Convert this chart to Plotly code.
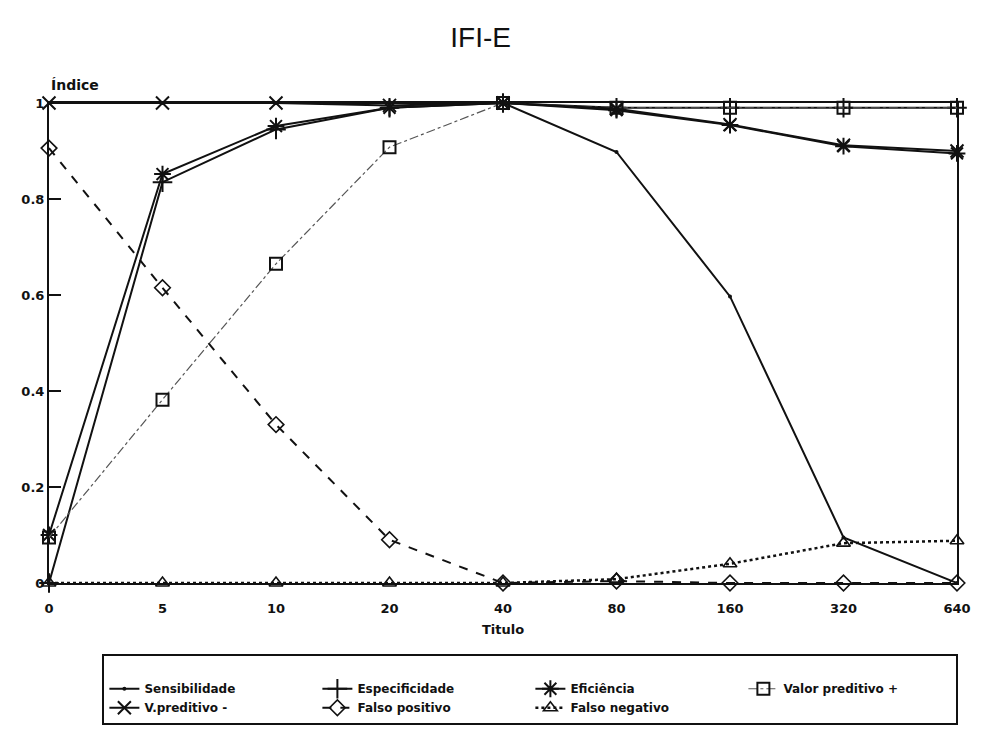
import plotly.graph_objects as go

titulos = ["0", "5", "10", "20", "40", "80", "160", "320", "640"]

sensibilidade = [1.0, 1.0, 1.0, 1.0, 1.0, 0.898, 0.597, 0.095, 0.0]
especificidade = [0.0, 0.835, 0.945, 0.99, 1.0, 0.99, 0.99, 0.99, 0.99]
eficiencia = [0.1, 0.852, 0.952, 0.99, 1.0, 0.985, 0.954, 0.91, 0.895]
valor_pred_pos = [0.095, 0.382, 0.665, 0.908, 1.0, 0.99, 0.99, 0.99, 0.99]
valor_pred_neg = [1.0, 1.0, 1.0, 0.995, 1.0, 0.988, 0.955, 0.912, 0.9]
falso_positivo = [0.906, 0.615, 0.33, 0.09, 0.0, 0.004, 0.0, 0.0, 0.0]
falso_negativo = [0.0, 0.0, 0.0, 0.0, 0.0, 0.008, 0.04, 0.083, 0.088]

INK = "#111111"
FONT = "DejaVu Sans, Liberation Sans, Arial, sans-serif"

series = [
    ("Sensibilidade", sensibilidade, dict(color=INK, width=2, dash="solid"), dict(symbol="circle", size=4)),
    ("Especificidade", especificidade, dict(color=INK, width=2, dash="solid"), dict(symbol="cross-thin-open", size=14, line=dict(width=2, color=INK))),
    ("Eficiência", eficiencia, dict(color=INK, width=2, dash="solid"), dict(symbol="asterisk-open", size=14, line=dict(width=2, color=INK))),
    ("Valor preditivo +", valor_pred_pos, dict(color="#555555", width=1.2, dash="dashdot"), dict(symbol="square-open", size=12, line=dict(width=2, color=INK))),
    ("V.preditivo -", valor_pred_neg, dict(color=INK, width=2, dash="solid"), dict(symbol="x-thin-open", size=13, line=dict(width=2, color=INK))),
    ("Falso positivo", falso_positivo, dict(color=INK, width=2, dash="dash"), dict(symbol="diamond-open", size=12, line=dict(width=1.6, color=INK))),
    ("Falso negativo", falso_negativo, dict(color=INK, width=2.5, dash="dot"), dict(symbol="triangle-up-open", size=12, line=dict(width=1.6, color=INK))),
]

fig = go.Figure()
for name, vals, line, marker in series:
    fig.add_trace(go.Scatter(
        x=titulos, y=vals, name=name, mode="lines+markers",
        line=line, marker=dict(color=INK, **marker), cliponaxis=False,
    ))

fig.update_layout(
    width=983, height=740,
    margin=dict(l=49, r=16, t=103, b=157),
    paper_bgcolor="white", plot_bgcolor="white",
    font=dict(family=FONT, color=INK, size=12),
    title=dict(text="IFI-E", x=0.489, xanchor="center", y=0.95, yanchor="middle",
               font=dict(size=28, family="Liberation Sans, Arial, sans-serif", color=INK)),
    showlegend=True,
    legend=dict(
        orientation="h", x=0.0588, xanchor="left", y=-0.148, yanchor="top",
        bordercolor=INK, borderwidth=2, bgcolor="white",
        entrywidth=168, entrywidthmode="pixels", itemwidth=30,
        title=dict(text=" ", side="top", font=dict(size=14)),
        font=dict(size=12, weight="bold", family=FONT), tracegroupgap=0,
    ),
)

fig.update_xaxes(
    type="category", range=[0, 8], showgrid=False, zeroline=False,
    showline=True, linecolor=INK, linewidth=2, mirror=True,
    ticks="", ticklabelstandoff=12, tickfont=dict(size=13, weight="bold", family=FONT),
    title=dict(text="Titulo", font=dict(size=13, weight="bold", family=FONT), standoff=10),
)
fig.update_yaxes(
    range=[0, 1], tickvals=[0, 0.2, 0.4, 0.6, 0.8, 1],
    ticktext=["0", "0.2", "0.4", "0.6", "0.8", "1"],
    showgrid=False, zeroline=False,
    showline=True, linecolor=INK, linewidth=2, mirror=True,
    ticks="inside", ticklen=12, tickwidth=2, tickcolor=INK,
    tickfont=dict(size=13, weight="bold", family=FONT),
)

fig.add_annotation(text="Índice", xref="paper", yref="paper", x=0.0, y=1.0,
                   xanchor="left", yanchor="bottom", yshift=8, showarrow=False,
                   font=dict(size=14, weight="bold", color=INK, family=FONT))

fig.write_html("out.html")
